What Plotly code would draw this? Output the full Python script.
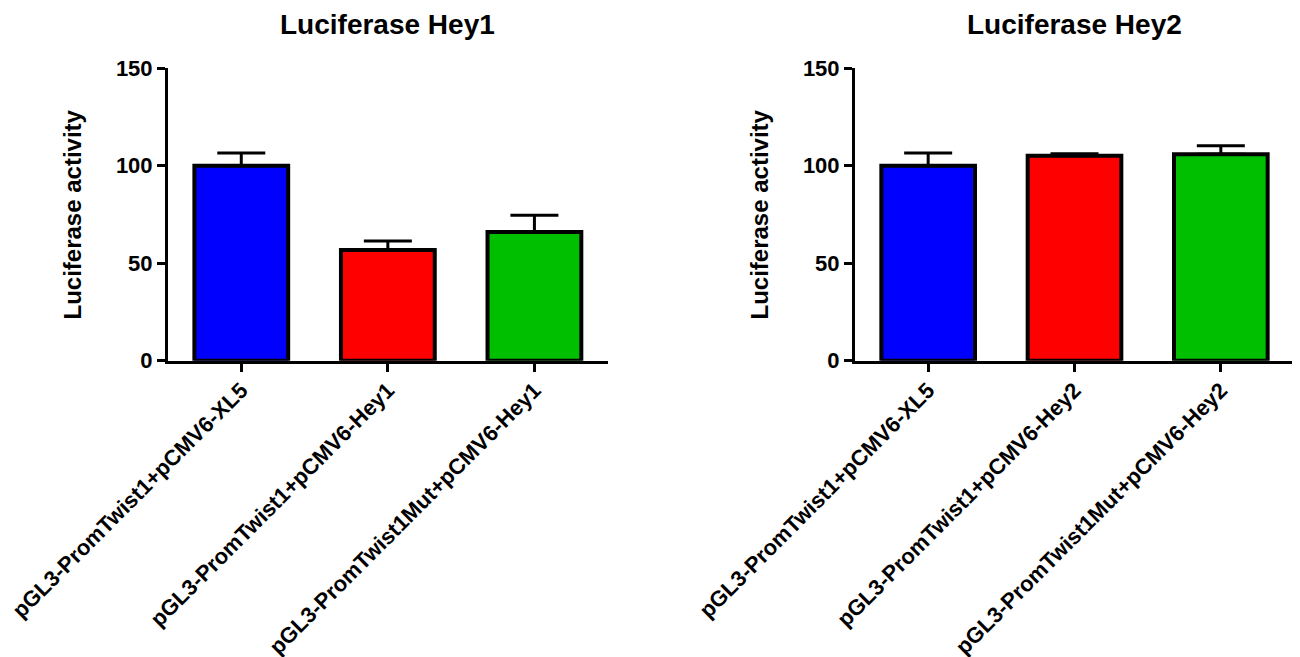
import plotly.graph_objects as go

# Data
cats_hey1 = ["pGL3-PromTwist1+pCMV6-XL5", "pGL3-PromTwist1+pCMV6-Hey1", "pGL3-PromTwist1Mut+pCMV6-Hey1"]
vals_hey1 = [100.0, 56.8, 66.0]
err_hey1 = [6.5, 4.6, 8.6]

cats_hey2 = ["pGL3-PromTwist1+pCMV6-XL5", "pGL3-PromTwist1+pCMV6-Hey2", "pGL3-PromTwist1Mut+pCMV6-Hey2"]
vals_hey2 = [100.0, 105.2, 105.9]
err_hey2 = [6.6, 1.0, 4.4]

bar_colors = ["#0000FF", "#FF0000", "#00BF00"]
titles = ["Luciferase Hey1", "Luciferase Hey2"]
y_title = "Luciferase activity"
y_ticks = [0, 50, 100, 150]

W, H = 1300, 657
OFF = 8  # page body margin offset
FONT = "Liberation Sans, Arial, Helvetica, sans-serif"

fig = go.Figure()

for i, (cats, vals, errs) in enumerate([(cats_hey1, vals_hey1, err_hey1), (cats_hey2, vals_hey2, err_hey2)]):
    xa = "x" if i == 0 else "x2"
    ya = "y" if i == 0 else "y2"
    fig.add_trace(go.Bar(
        x=list(range(len(cats))), y=vals, xaxis=xa, yaxis=ya,
        width=0.64,
        marker=dict(color=bar_colors, line=dict(color="black", width=4)),
        error_y=dict(type="data", array=errs, arrayminus=[0] * len(errs), symmetric=False,
                     color="black", thickness=3, width=24),
        showlegend=False, hoverinfo="skip",
    ))

px_x = [(168 - OFF, 607.7 - OFF), (855 - OFF, 1294 - OFF)]
ydom = [1 - (360.7 - OFF) / H, 1 - (68.3 - OFF) / H]

xtickfont = dict(family=FONT, size=22, color="black", weight="bold")
ytickfont = dict(family=FONT, size=22, color="black", weight="bold")

for i, cats in enumerate([cats_hey1, cats_hey2]):
    sfx = "" if i == 0 else "2"
    dom = [px_x[i][0] / W, px_x[i][1] / W]
    fig.layout["xaxis" + sfx] = dict(
        domain=dom, range=[-0.5, 2.5], anchor="y" + sfx,
        tickmode="array", tickvals=list(range(len(cats))), ticktext=cats,
        tickangle=-45, tickfont=xtickfont, ticklabeloverflow="allow", ticklabelstandoff=-3,
        showline=True, linecolor="black", linewidth=3,
        ticks="outside", ticklen=8, tickwidth=3, tickcolor="black",
        showgrid=False, zeroline=False, automargin=False, fixedrange=True,
    )
    fig.layout["yaxis" + sfx] = dict(
        domain=ydom, range=[0, 150], anchor="x" + sfx,
        tickmode="array", tickvals=y_ticks, ticktext=[str(t) for t in y_ticks],
        tickfont=ytickfont,
        showline=True, linecolor="black", linewidth=3,
        ticks="outside", ticklen=8, tickwidth=3, tickcolor="black",
        showgrid=False, zeroline=False, automargin=False, fixedrange=True,
    )
    cx = (px_x[i][0] + px_x[i][1]) / 2 / W
    fig.add_annotation(
        x=cx, y=1 - (24 - OFF) / H, xref="paper", yref="paper", text=titles[i],
        showarrow=False, xanchor="center", yanchor="middle",
        font=dict(family=FONT, size=28, color="black", weight="bold"),
    )
    fig.add_annotation(
        x=(px_x[i][0] - 96) / W, y=(ydom[0] + ydom[1]) / 2, xref="paper", yref="paper",
        text=y_title, textangle=-90, showarrow=False, xanchor="center", yanchor="middle",
        font=dict(family=FONT, size=24, color="black", weight="bold"),
    )

fig.update_layout(
    template="none",
    width=W, height=H,
    margin=dict(l=0, r=0, t=0, b=0),
    paper_bgcolor="white", plot_bgcolor="white",
    font=dict(family=FONT, color="black"),
)

fig.write_html("out.html")
